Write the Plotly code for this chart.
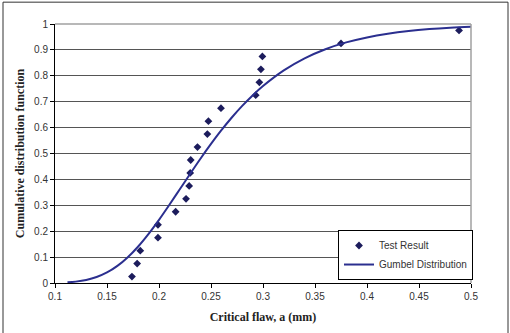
import plotly.graph_objects as go

# Test results (critical flaw size, mm) and cumulative probability
test_x = [0.174, 0.179, 0.182, 0.199, 0.199, 0.216, 0.226, 0.229, 0.230, 0.2305,
          0.237, 0.2465, 0.2475, 0.2596, 0.293, 0.2965, 0.298, 0.2994, 0.375, 0.4885]
test_y = [0.025, 0.075, 0.125, 0.175, 0.225, 0.275, 0.325, 0.375, 0.425, 0.475,
          0.525, 0.575, 0.625, 0.675, 0.725, 0.775, 0.825, 0.875, 0.925, 0.975]

# Gumbel distribution curve
gumbel_x = [0.112, 0.12, 0.13, 0.14, 0.15, 0.16, 0.17, 0.18, 0.19, 0.20, 0.21, 0.22,
            0.23, 0.24, 0.25, 0.26, 0.27, 0.28, 0.29, 0.30, 0.32, 0.34, 0.36, 0.38,
            0.40, 0.42, 0.44, 0.46, 0.48, 0.50]
gumbel_y = [0.0026, 0.0053, 0.0117, 0.0230, 0.0406, 0.0660, 0.0996, 0.1411, 0.1897,
            0.2439, 0.3020, 0.3619, 0.4219, 0.4808, 0.5369, 0.5899, 0.6389, 0.6837,
            0.7242, 0.7604, 0.8209, 0.8675, 0.9027, 0.9289, 0.9482, 0.9624, 0.9728,
            0.9803, 0.9858, 0.9897]

x_ticks = [0.1, 0.15, 0.2, 0.25, 0.3, 0.35, 0.4, 0.45, 0.5]
x_tick_labels = ["0.1", "0.15", "0.2", "0.25", "0.3", "0.35", "0.4", "0.45", "0.5"]
y_ticks = [0, 0.1, 0.2, 0.3, 0.4, 0.5, 0.6, 0.7, 0.8, 0.9, 1]
y_tick_labels = ["0", "0.1", "0.2", "0.3", "0.4", "0.5", "0.6", "0.7", "0.8", "0.9", "1"]

fig = go.Figure()
fig.add_trace(go.Scatter(
    x=test_x, y=test_y, mode="markers", name="Test Result",
    marker=dict(symbol="diamond", size=6, color="#1c1c5c"),
))
fig.add_trace(go.Scatter(
    x=gumbel_x, y=gumbel_y, mode="lines", name="Gumbel Distribution",
    line=dict(color="#2b2f8f", width=2, shape="spline"),
    cliponaxis=False,
))

W, H = 510, 333
L, R, T, B = 55, 39, 24, 48
pw, ph = W - L - R, H - T - B

def px_x(p):
    return (p - L) / pw

def px_y(p):
    return (H - B - p) / ph

fig.update_layout(
    width=W, height=H,
    margin=dict(l=L, r=R, t=T, b=B),
    paper_bgcolor="white", plot_bgcolor="white",
    font=dict(family="Liberation Sans, Arial", size=10, color="#333333"),
    showlegend=True,
    legend=dict(
        x=px_x(338), y=px_y(282), xanchor="left", yanchor="bottom",
        bgcolor="white", bordercolor="#000000", borderwidth=1,
        font=dict(family="Liberation Sans, Arial", size=10, color="#333333"),
        itemwidth=30, tracegroupgap=0,
    ),
    xaxis=dict(
        range=[0.1, 0.5], tickvals=x_ticks, ticktext=x_tick_labels,
        showgrid=False, zeroline=False,
        showline=True, linecolor="#000000", linewidth=1,
        ticks="outside", ticklen=4, tickcolor="#000000",
        title=dict(text="<b>Critical flaw, a (mm)</b>",
                   font=dict(family="Liberation Serif, Times New Roman", size=12, color="#222222"),
                   standoff=11),
    ),
    yaxis=dict(
        range=[0, 1], tickvals=y_ticks, ticktext=y_tick_labels,
        showgrid=True, gridcolor="#555555", gridwidth=1,
        zeroline=False,
        showline=True, linecolor="#000000", linewidth=1,
        ticks="outside", ticklen=4, tickcolor="#000000",
        title=dict(text="<b>Cumulative distribution function</b>",
                   font=dict(family="Liberation Serif, Times New Roman", size=12, color="#222222"),
                   standoff=6),
    ),
    shapes=[
        # plot area top/right border (gray)
        dict(type="line", xref="paper", yref="paper", x0=0, x1=1, y0=1, y1=1,
             line=dict(color="#a0a0a0", width=1.5)),
        dict(type="line", xref="paper", yref="paper", x0=1, x1=1, y0=0, y1=1,
             line=dict(color="#a0a0a0", width=1.5)),
        # outer chart border
        dict(type="rect", xref="paper", yref="paper",
             x0=px_x(3), x1=px_x(508), y0=px_y(336), y1=px_y(2),
             line=dict(color="#333333", width=1), layer="below"),
    ],
)

fig.write_html("out.html")
